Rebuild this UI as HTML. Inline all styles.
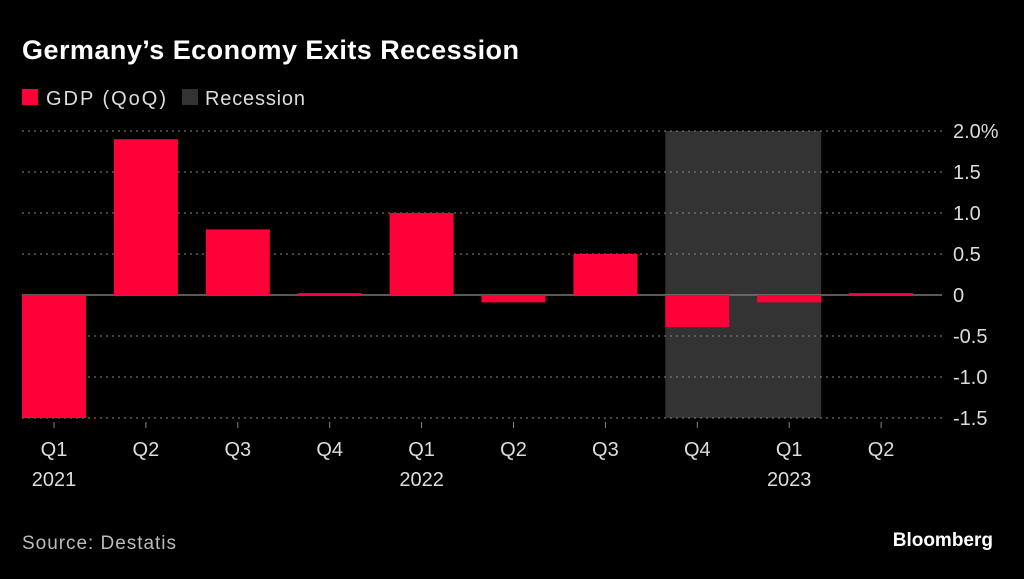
<!DOCTYPE html>
<html><head><meta charset="utf-8"><style>
body{margin:0;background:#000;width:1024px;height:574px;overflow:hidden;font-family:"Liberation Sans",sans-serif;color:#fff}
svg text{font-family:"Liberation Sans",sans-serif}
</style></head><body>
<svg id="c" width="1024" height="574">
<text x="22" y="59" font-size="27" font-weight="bold" fill="#fff" textLength="497">Germany’s Economy Exits Recession</text>
<g>
<rect x="22" y="89" width="16" height="16" fill="#ff0039"/>
<text x="46" y="105" font-size="20" fill="#ddd" textLength="120">GDP (QoQ)</text>
<rect x="182" y="89" width="16" height="16" fill="#333"/>
<text x="205" y="105" font-size="20" fill="#ddd" textLength="100">Recession</text>
</g>
<g id="plot"></g>
<text x="22" y="549" font-size="19" fill="#bbb" textLength="154">Source: Destatis</text>
<text x="993" y="546" font-size="19" font-weight="bold" fill="#fff" text-anchor="end">Bloomberg</text>
</svg>
<script>
const quarters=["Q1","Q2","Q3","Q4","Q1","Q2","Q3","Q4","Q1","Q2"];
const years=["2021","","","","2022","","","","2023",""];
const gdp=[-1.5,1.9,0.8,0.01,1.0,-0.09,0.5,-0.39,-0.09,0.01];
const ticks=[2.0,1.5,1.0,0.5,0,-0.5,-1.0,-1.5];
const tickLabels=["2.0%","1.5","1.0","0.5","0","-0.5","-1.0","-1.5"];
const recession=[7,8];
const NS="http://www.w3.org/2000/svg";
const g=document.getElementById('plot');
const y=v=>295-v*82;
const x0=22,step=91.9,bw=64;
const xc=i=>x0+step*i+bw/2;
function mk(t,a){const e=document.createElementNS(NS,t);for(const k in a)e.setAttribute(k,a[k]);g.appendChild(e);return e;}
const r=mk('rect',{x:xc(recession[0])-bw/2,y:y(2.0),width:xc(recession[1])-xc(recession[0])+bw,height:y(-1.5)-y(2.0),fill:'#333'});


ticks.forEach((t,i)=>{
  const l=mk('line',{x1:22,x2:942,y1:y(t),y2:y(t),stroke:t===0?'#777':'#888','stroke-width':t===0?1.5:1,'stroke-dasharray':t===0?'none':'2,4'});
  
  
  const tx=mk('text',{x:953,y:y(t)+7,'font-size':20,fill:'#ddd'});
  tx.textContent=tickLabels[i];
  
  
});
gdp.forEach((v,i)=>{
  const top=Math.min(y(v),y(0)),h=Math.max(Math.abs(y(v)-y(0)),2);
  const b=mk('rect',{x:xc(i)-bw/2,y:v<0?y(0):top-(h>2?0:1),width:bw,height:h,fill:'#ff0039'});
  
  
  const tk=mk('line',{x1:xc(i),x2:xc(i),y1:422,y2:428,stroke:'#888'});
  
  
  const q=mk('text',{x:xc(i),y:456,'font-size':20,fill:'#ddd','text-anchor':'middle'});
  q.textContent=quarters[i];
  
  
  if(years[i]){const yt=mk('text',{x:xc(i),y:486,'font-size':20,fill:'#ddd','text-anchor':'middle'});
  yt.textContent=years[i];
  
  }
});
</script>
</body></html>
